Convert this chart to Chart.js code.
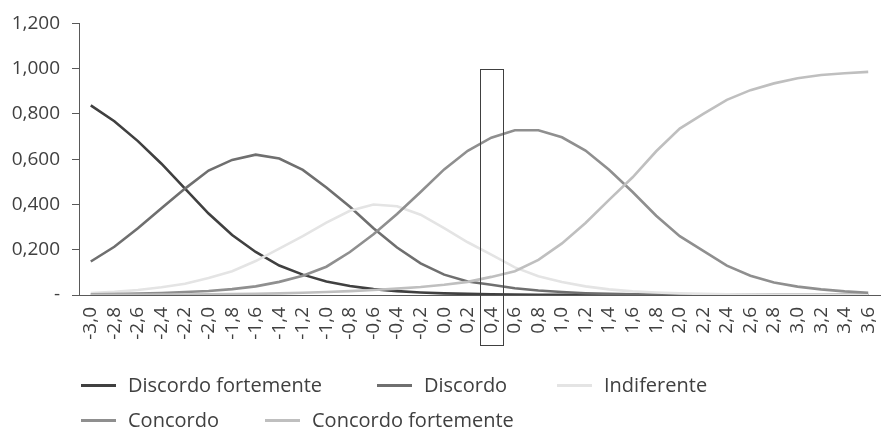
<!DOCTYPE html>
<html>
<head>
<meta charset="utf-8">
<script src="https://cdn.jsdelivr.net/npm/chart.js@4/dist/chart.umd.min.js"></script>
<style>
  html, body { margin: 0; padding: 0; background: #fff; }
  #wrap { position: relative; width: 883px; height: 430px; overflow: hidden; }
  #legend { position: absolute; left: 81px; top: 367px; font-family: "Open Sans", sans-serif; font-size: 20px; color: #404040; }
  .row { display: flex; height: 35px; align-items: center; }
  .item { display: flex; align-items: center; white-space: nowrap; }
  .swatch { width: 35px; height: 3px; margin-right: 12px; margin-top: 2px; }
</style>
</head>
<body>
<div id="wrap">
  <canvas id="chart" width="883" height="430"></canvas>
  <div id="legend"></div>
</div>
<script>
// x categories (latent scale)
const categories = ["-3,0", "-2,8", "-2,6", "-2,4", "-2,2", "-2,0", "-1,8", "-1,6", "-1,4", "-1,2",
  "-1,0", "-0,8", "-0,6", "-0,4", "-0,2", "0,0", "0,2", "0,4", "0,6", "0,8",
  "1,0", "1,2", "1,4", "1,6", "1,8", "2,0", "2,2", "2,4", "2,6", "2,8",
  "3,0", "3,2", "3,4", "3,6"];

const seriesNames = ["Discordo fortemente", "Discordo", "Indiferente", "Concordo", "Concordo fortemente"];
const seriesColors = ["#404040", "#6f6f6f", "#e4e4e4", "#8f8f8f", "#bfbfbf"];

const discordoFortemente = [0.838, 0.768, 0.68, 0.58, 0.47, 0.36, 0.265, 0.19, 0.13, 0.09,
  0.06, 0.04, 0.026, 0.017, 0.011, 0.007, 0.005, 0.003, 0.002, 0.001,
  0.001, 0.0005, 0.0003, 0.0002, 0.0001, 0.0001, 0, 0, 0, 0,
  0, 0, 0, 0];
const discordo = [0.148, 0.213, 0.295, 0.383, 0.47, 0.55, 0.597, 0.62, 0.603, 0.553,
  0.475, 0.39, 0.295, 0.21, 0.14, 0.09, 0.06, 0.045, 0.03, 0.02,
  0.013, 0.008, 0.005, 0.003, 0.002, 0.001, 0.001, 0.0005, 0.0003, 0.0002,
  0.0001, 0.0001, 0, 0];
const indiferente = [0.009, 0.014, 0.022, 0.034, 0.05, 0.075, 0.105, 0.15, 0.205, 0.26,
  0.32, 0.372, 0.4, 0.392, 0.355, 0.295, 0.233, 0.178, 0.122, 0.083,
  0.057, 0.038, 0.025, 0.016, 0.011, 0.007, 0.005, 0.003, 0.002, 0.001,
  0.001, 0.001, 0, 0];
const concordo = [0.003, 0.004, 0.006, 0.009, 0.013, 0.018, 0.026, 0.038, 0.058, 0.085,
  0.125, 0.19, 0.268, 0.358, 0.455, 0.555, 0.637, 0.695, 0.728, 0.728,
  0.697, 0.638, 0.553, 0.455, 0.35, 0.26, 0.195, 0.13, 0.085, 0.055,
  0.037, 0.025, 0.016, 0.01];
const concordoFortemente = [0.0005, 0.0007, 0.001, 0.0015, 0.002, 0.003, 0.004, 0.005, 0.007, 0.01,
  0.013, 0.017, 0.022, 0.028, 0.035, 0.045, 0.058, 0.08, 0.105, 0.155,
  0.228, 0.318, 0.42, 0.52, 0.635, 0.735, 0.8, 0.862, 0.905, 0.935,
  0.958, 0.972, 0.98, 0.986];

const seriesValues = [discordoFortemente, discordo, indiferente, concordo, concordoFortemente];

// highlighted category box
const highlightLabel = "0,4";
const highlightTop = 1.0;

const FONT = "'Open Sans', sans-serif";

const highlightBox = {
  id: "highlightBox",
  afterDatasetsDraw(chart) {
    const x = chart.scales.x;
    const y = chart.scales.y;
    const idx = categories.indexOf(highlightLabel);
    const half = (x.getPixelForValue(1) - x.getPixelForValue(0)) / 2;
    const cx = x.getPixelForValue(idx);
    const ctx = chart.ctx;
    ctx.save();
    ctx.strokeStyle = "#404040";
    ctx.lineWidth = 1;
    const top = y.getPixelForValue(highlightTop);
    ctx.strokeRect(Math.round(cx - half) + 0.5, Math.round(top) + 0.5,
      Math.round(2 * half) - 1, Math.round(x.bottom - top));
    ctx.restore();
  }
};

const chart = new Chart(document.getElementById("chart").getContext("2d"), {
  type: "line",
  data: {
    labels: categories,
    datasets: seriesNames.map((name, i) => ({
      label: name,
      data: seriesValues[i],
      borderColor: seriesColors[i],
      backgroundColor: seriesColors[i],
      borderWidth: 2.6,
      pointRadius: 0,
      tension: 0,
      order: seriesNames.length - i,
    })),
  },
  options: {
    responsive: false,
    animation: false,
    layout: { padding: { left: 0, right: 3, top: 21, bottom: 85 } },
    plugins: {
      legend: { display: false },
      tooltip: { enabled: false },
    },
    scales: {
      x: {
        offset: true,
        grid: { display: false, drawTicks: false },
        border: { display: true, color: "#595959", width: 1 },
        ticks: {
          autoSkip: false,
          minRotation: 90,
          maxRotation: 90,
          padding: 12,
          color: "#404040",
          font: { family: FONT, size: 19 },
        },
        afterFit: (s) => {
          s.height = 50;
          s.paddingLeft = 0;
          s.paddingRight = 0;
        },
      },
      y: {
        min: 0,
        max: 1.2,
        grid: { drawOnChartArea: false, drawTicks: true, tickLength: 7, color: "#595959" },
        border: { display: true, color: "#595959", width: 1 },
        ticks: {
          stepSize: 0.2,
          padding: 12,
          color: "#404040",
          font: { family: FONT, size: 19 },
          callback: (v) => (v === 0 ? "-" : v.toFixed(3).replace(".", ",")),
        },
        afterFit: (s) => { s.width = 79; },
      },
    },
  },
  plugins: [highlightBox],
});

// legend built from the datasets, two rows like the original
const legendRows = [[0, 1, 2], [3, 4]];
const itemWidths = [[296, 180, 0], [184, 0]];
const legendEl = document.getElementById("legend");
legendRows.forEach((row, r) => {
  const rowEl = document.createElement("div");
  rowEl.className = "row";
  row.forEach((i, k) => {
    const item = document.createElement("div");
    item.className = "item";
    if (itemWidths[r][k]) item.style.width = itemWidths[r][k] + "px";
    const sw = document.createElement("span");
    sw.className = "swatch";
    sw.style.background = chart.data.datasets[i].borderColor;
    const txt = document.createElement("span");
    txt.textContent = chart.data.datasets[i].label;
    item.appendChild(sw);
    item.appendChild(txt);
    rowEl.appendChild(item);
  });
  legendEl.appendChild(rowEl);
});
</script>
</body>
</html>
